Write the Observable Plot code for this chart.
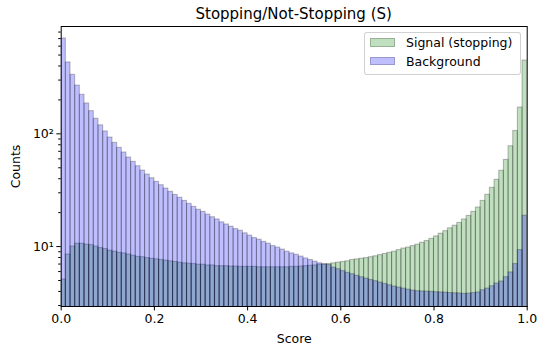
<!DOCTYPE html>
<html>
<head>
<meta charset="utf-8">
<script src="https://cdn.jsdelivr.net/npm/d3@7"></script>
<script src="https://cdn.jsdelivr.net/npm/@observablehq/plot@0.6"></script>
<style>
  html, body { margin: 0; padding: 0; background: white; }
  #wrap { position: relative; width: 545px; height: 345px; font-family: "DejaVu Sans", sans-serif; }
  #title { position: absolute; left: 60.7px; width: 466px; top: 5px; text-align: center; font-size: 15px; line-height: 18px; color: black; }
  #legend { position: absolute; left: 364px; top: 31.5px; width: 155px; height: 41px; border: 1px solid rgba(204,204,204,0.9); border-radius: 3px; background: rgba(255,255,255,0.8); }
  .item { position: absolute; left: 5px; height: 15px; font-size: 12.5px; line-height: 15px; color: black; }
  .patch { position: absolute; left: 0; top: 3px; width: 25px; height: 8.5px; box-sizing: border-box; border: 1px solid rgba(0,0,0,0.2); }
  .lab { position: absolute; left: 36px; top: 0; white-space: nowrap; }
</style>
</head>
<body>
<div id="wrap">
  <div id="chart"></div>
  <div id="title"></div>
  <div id="legend"></div>
</div>
<script>
const title = "Stopping/Not-Stopping (S)";
const xLabel = "Score";
const yLabel = "Counts";
const seriesNames = ["Signal (stopping)", "Background"];
const seriesColors = ["#008000", "#0000ff"];
const binCount = 100;
const xTicks = [0, 0.2, 0.4, 0.6, 0.8, 1.0];
const yMajorTicks = [10, 100];
const yMajorLabels = ["10¹", "10²"];
const yMinorTicks = [3, 4, 5, 6, 7, 8, 9, 20, 30, 40, 50, 60, 70, 80, 90, 200, 300, 400, 500, 600, 700, 800];

const signal = [
  5.1, 8.5, 10.0, 10.6, 10.6, 10.4, 10.3, 10.0, 9.7, 9.5,
  9.2, 9.0, 8.8, 8.7, 8.5, 8.3, 8.1, 8.05, 7.9, 7.8,
  7.7, 7.6, 7.5, 7.4, 7.3, 7.2, 7.1, 7.05, 7.0, 6.9,
  6.9, 6.8, 6.8, 6.7, 6.7, 6.7, 6.65, 6.65, 6.6, 6.6,
  6.6, 6.6, 6.55, 6.55, 6.55, 6.55, 6.55, 6.55, 6.55, 6.6,
  6.6, 6.65, 6.7, 6.75, 6.8, 6.9, 6.95, 7.0, 7.1, 7.2,
  7.3, 7.4, 7.6, 7.7, 7.8, 7.9, 8.05, 8.2, 8.4, 8.6,
  8.8, 9.0, 9.3, 9.6, 9.8, 10.1, 10.4, 10.8, 11.2, 11.7,
  12.3, 13.0, 13.7, 14.5, 15.3, 16.2, 17.4, 18.7, 20.3, 22.2,
  25.4, 28.8, 33.2, 39.1, 47.0, 58.8, 77.6, 106, 171, 447
];
const background = [
  701, 430, 334, 268, 222, 186, 159, 136, 119, 105,
  92.7, 83.2, 75.1, 68.3, 61.6, 56.4, 51.6, 47.2, 43.5, 40.4,
  37.5, 35.0, 32.7, 30.6, 28.7, 27.1, 25.4, 23.9, 22.5, 21.2,
  20.3, 19.2, 18.2, 17.4, 16.4, 15.7, 15.0, 14.3, 13.8, 13.1,
  12.5, 11.9, 11.5, 11.0, 10.6, 10.1, 9.8, 9.4, 9.0, 8.7,
  8.45, 8.15, 7.85, 7.6, 7.35, 7.1, 6.95, 6.85, 6.5, 6.3,
  6.06, 5.85, 5.69, 5.5, 5.35, 5.2, 5.05, 4.93, 4.8, 4.66,
  4.54, 4.42, 4.33, 4.24, 4.15, 4.07, 4.02, 4.0, 3.98, 3.97,
  3.94, 3.92, 3.9, 3.87, 3.85, 3.84, 3.8, 3.82, 3.87, 3.92,
  4.1, 4.24, 4.45, 4.7, 4.9, 5.35, 5.9, 7.0, 9.3, 18.8
];

const toBins = (vals) => vals.map((v, i) => ({x1: i / binCount, x2: (i + 1) / binCount, v}));

const barOpts = (color) => ({
  x1: "x1", x2: "x2", y1: () => 1, y2: "v",
  fill: color, fillOpacity: 0.25,
  stroke: "black", strokeOpacity: 0.25, strokeWidth: 1.1,
  clip: true
});

const chart = Plot.plot({
  width: 545, height: 345,
  marginLeft: 60.7, marginRight: 18.3, marginTop: 26, marginBottom: 39,
  style: {fontFamily: "DejaVu Sans, sans-serif", fontSize: "12.5px", color: "black", background: "white"},
  x: {domain: [0, 1]},
  y: {type: "log", domain: [2.94, 896]},
  marks: [
    Plot.rect(toBins(signal), barOpts(seriesColors[0])),
    Plot.rect(toBins(background), barOpts(seriesColors[1])),
    Plot.frame({stroke: "black", strokeWidth: 1}),
    Plot.axisX({ticks: xTicks, tickFormat: d3.format(".1f"), tickSize: 4.4, tickPadding: 3, fontSize: 12.5,
      label: xLabel, labelAnchor: "center", labelArrow: "none", labelOffset: 36}),
    Plot.axisY({ticks: yMajorTicks, tickFormat: (d) => yMajorLabels[yMajorTicks.indexOf(d)], tickSize: 4.4, tickPadding: 3, fontSize: 12.5,
      label: yLabel, labelAnchor: "center", labelArrow: "none", labelOffset: 50}),
    Plot.axisY({ticks: yMinorTicks, tickFormat: () => "", tickSize: 2.5, label: null})
  ]
});
document.getElementById("chart").appendChild(chart);
document.getElementById("title").textContent = title;

const legend = document.getElementById("legend");
seriesNames.forEach((name, i) => {
  const item = document.createElement("div");
  item.className = "item";
  item.style.top = (2.5 + i * 18.5) + "px";
  const patch = document.createElement("div");
  patch.className = "patch";
  patch.style.background = d3.color(seriesColors[i]).copy({opacity: 0.25}).formatRgb();
  const lab = document.createElement("div");
  lab.className = "lab";
  lab.textContent = name;
  item.appendChild(patch);
  item.appendChild(lab);
  legend.appendChild(item);
});
</script>
</body>
</html>
